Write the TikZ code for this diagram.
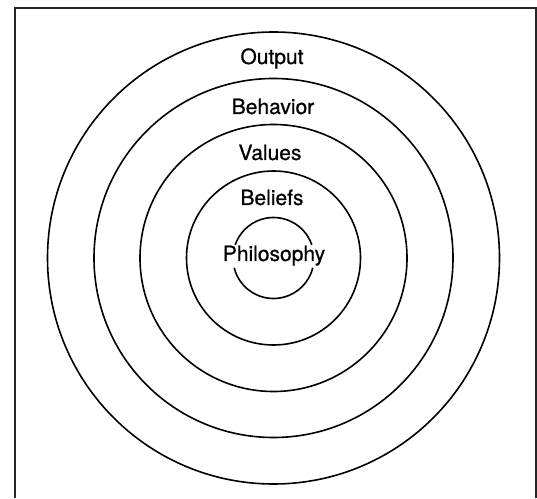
\documentclass[tikz,border=0pt]{standalone}
\usepackage{fontspec}
\setmainfont{TeX Gyre Heros}
\newfontfamily\lblfont[FakeBold=0.8]{TeX Gyre Heros}
\usepackage{tikz}
\usetikzlibrary{positioning}
\tikzset{
  ring/.style={draw=black, line width=1.6pt},
  lbl/.style={font=\lblfont\fontsize{21}{25}\selectfont, anchor=base, inner sep=0pt},
  frame/.style={draw=black!85, line width=2pt},
}
\begin{document}
\begin{tikzpicture}[x=1pt,y=1pt]
\useasboundingbox (0,0) rectangle (537,498);
% open frame, runs off the bottom edge
\draw[frame] (15,0) -- (15,490) -- (536,490) -- (536,0);
\coordinate (c) at (273.5,240);
% rings
\draw[ring] (c) circle[radius=226];
\draw[ring] (c) circle[radius=179.5];
\draw[ring] (c) circle[radius=133.5];
\draw[ring] (c) circle[radius=87];
% broken core ring
\draw[ring] ([shift={(19:40.5)}]c) arc[start angle=19, end angle=161, radius=40.5];
\draw[ring] ([shift={(194:40.5)}]c) arc[start angle=194, end angle=346, radius=40.5];
% labels
\node[lbl] (output) at (272,434) {Output};
\node[lbl] (behavior) at (273,384) {Behavior};
\node[lbl] (values) at (270,338) {Values};
\node[lbl] (beliefs) at (272,293) {Beliefs};
\node[lbl] (philosophy) at (274,237) {Philosophy};
\end{tikzpicture}
\end{document}
